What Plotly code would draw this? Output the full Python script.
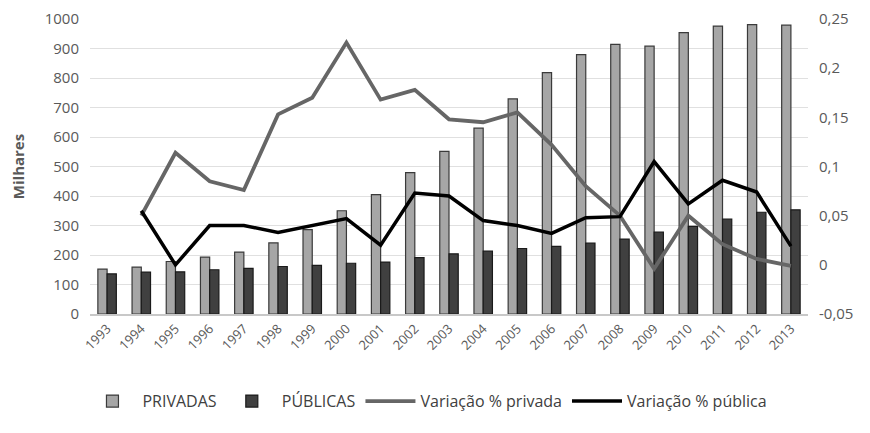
import plotly.graph_objects as go

years = [str(y) for y in range(1993, 2014)]
privadas = [152, 159, 178, 193, 210, 241, 286, 350, 405, 479, 551, 630, 729, 818, 879, 914, 908, 954, 976, 981, 979]
publicas = [136, 142, 143, 150, 155, 161, 165, 172, 176, 191, 204, 213, 222, 229, 240, 254, 278, 297, 322, 345, 353]
var_privada = [None, 0.050, 0.114, 0.085, 0.076, 0.153, 0.170, 0.226, 0.168, 0.178, 0.148, 0.145, 0.155,
               0.122, 0.080, 0.050, -0.004, 0.050, 0.021, 0.006, -0.001]
var_publica = [None, 0.055, 0.000, 0.040, 0.040, 0.033, 0.040, 0.047, 0.020, 0.073, 0.070, 0.045, 0.040,
               0.032, 0.048, 0.049, 0.105, 0.062, 0.086, 0.074, 0.019]
left_ticks = list(range(0, 1001, 100))
right_ticks = [-0.05, 0, 0.05, 0.1, 0.15, 0.2, 0.25]
right_labels = ["-0,05", "0", "0,05", "0,1", "0,15", "0,2", "0,25"]

FONT = "Open Sans"
TXT = "#595959"

fig = go.Figure()
fig.add_trace(go.Bar(x=years, y=privadas, name="PRIVADAS",
                     marker=dict(color="#a6a6a6", line=dict(color="#3a3a3a", width=1.2))))
fig.add_trace(go.Bar(x=years, y=publicas, name="PÚBLICAS",
                     marker=dict(color="#404040", line=dict(color="#1a1a1a", width=1.2))))
fig.add_trace(go.Scatter(x=years, y=var_privada, name="Variação % privada", yaxis="y2",
                         mode="lines", line=dict(color="#666666", width=3.8)))
fig.add_trace(go.Scatter(x=years, y=var_publica, name="Variação % pública", yaxis="y2",
                         mode="lines", line=dict(color="#000000", width=3.5)))

fig.update_layout(
    width=870, height=433,
    margin=dict(l=82, r=70, t=11, b=127, autoexpand=False),
    paper_bgcolor="white", plot_bgcolor="white",
    font=dict(family=FONT, color=TXT, size=14),
    barmode="group", bargap=0.46, bargroupgap=0.0,
    showlegend=True,
    legend=dict(orientation="h", x=0.47, xanchor="center", yref="container", y=0.092,
                yanchor="middle", font=dict(family=FONT, size=16, color="#404040"),
                itemwidth=50, traceorder="normal"),
    xaxis=dict(type="category", tickangle=-45, showgrid=False, showline=True,
               linecolor="#c8c8c8", linewidth=2, tickfont=dict(size=13, color=TXT),
               ticks="", automargin=False),
    yaxis=dict(range=[0, 1000], tickvals=left_ticks, showgrid=True, gridcolor="#e0e0e0",
               gridwidth=1, zeroline=False, tickfont=dict(size=15, color=TXT),
               ticklabelstandoff=10, automargin=False,
               title=dict(text="<b>Milhares</b>", font=dict(size=15, color=TXT), standoff=22)),
    yaxis2=dict(range=[-0.05, 0.25], overlaying="y", side="right", tickvals=right_ticks,
                ticktext=right_labels, showgrid=False, zeroline=False, automargin=False,
                tickfont=dict(size=15, color=TXT), ticklabelstandoff=10),
)

fig.write_html("out.html")
